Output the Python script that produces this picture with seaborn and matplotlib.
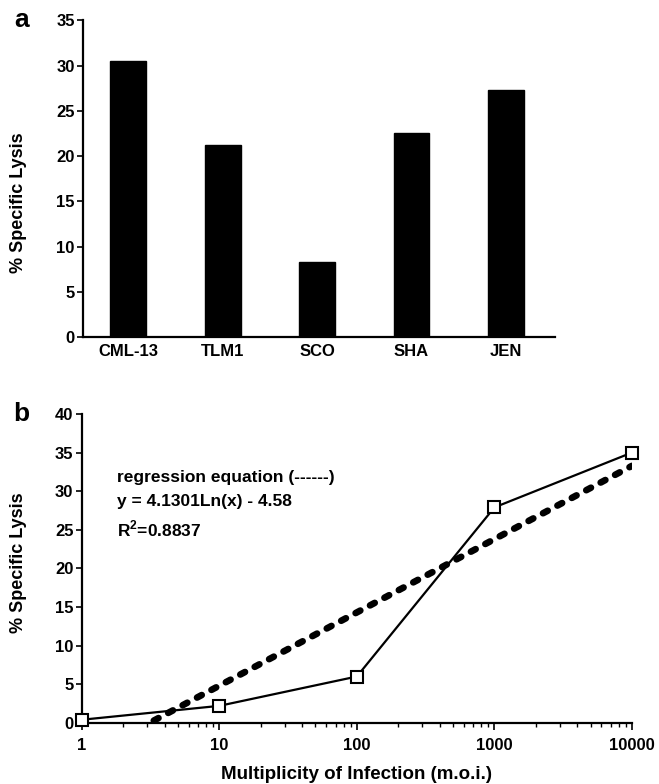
import numpy as np
import pandas as pd
import seaborn as sns
import matplotlib.pyplot as plt
from matplotlib.ticker import LogLocator, FixedLocator, NullFormatter

# panel a: lysis by target cell line
cell_lines = ["CML-13", "TLM1", "SCO", "SHA", "JEN"]
lysis_a = [30.5, 21.2, 8.3, 22.6, 27.3]

# panel b: lysis vs m.o.i.
moi = [1, 10, 100, 1000, 10000]
lysis_b = [0.4, 2.2, 6.0, 27.9, 35.0]

sns.set_style("ticks")
plt.rcParams['font.family'] = ['Liberation Sans', 'DejaVu Sans']
plt.rcParams['font.weight'] = 'bold'
plt.rcParams['mathtext.fontset'] = 'custom'
plt.rcParams['mathtext.rm'] = 'Liberation Sans:bold'
plt.rcParams['mathtext.bf'] = 'Liberation Sans:bold'
for k in ['text.color', 'axes.labelcolor', 'xtick.color', 'ytick.color',
          'axes.edgecolor']:
    plt.rcParams[k] = 'black'

fig = plt.figure(figsize=(6.59, 7.84), dpi=100)
ax1 = fig.add_axes([0.126, 0.570, 0.716, 0.404])
ax2 = fig.add_axes([0.124, 0.078, 0.835, 0.394])

# ---- a
df_a = pd.DataFrame({"cell": cell_lines, "lysis": lysis_a})
sns.barplot(data=df_a, x="cell", y="lysis", color="black", saturation=1,
            width=0.38, edgecolor="black", ax=ax1)
ax1.set_xlim(-0.48, 4.52)
ax1.set_ylim(0, 35)
ax1.set_yticks(range(0, 36, 5))
ax1.set_xlabel("")
ax1.set_ylabel("% Specific Lysis", fontsize=13, fontweight="bold")
ax1.yaxis.set_label_coords(-0.119, 0.426)
ax1.tick_params(axis="x", length=0, pad=5, labelsize=12)
ax1.tick_params(axis="y", length=4, width=1.2, pad=2, labelsize=12)
sns.despine(ax=ax1)
for s in ["left", "bottom"]:
    ax1.spines[s].set_linewidth(1.6)

# ---- b
df_b = pd.DataFrame({"moi": moi, "lysis": lysis_b})
sns.lineplot(data=df_b, x="moi", y="lysis", color="black", linewidth=1.6,
             marker="s", markersize=9, markerfacecolor="white",
             markeredgecolor="black", markeredgewidth=1.5, ax=ax2, zorder=4)
ax2.lines[-1].set_clip_on(False)

# log fit like in the figure
slope, icpt = np.polyfit(np.log(df_b["moi"]), df_b["lysis"], 1)
grid = np.geomspace(1, 10000, 300)
fit = pd.DataFrame({"moi": grid, "lysis": slope * np.log(grid) + icpt})
sns.lineplot(data=fit, x="moi", y="lysis", color="black", linewidth=4.8,
             ax=ax2, zorder=3)
reg = ax2.lines[-1]
reg.set_dashes((0.8, 1.65))
reg.set_dash_capstyle("round")

ax2.set_xscale("log")
ax2.set_xlim(1, 10000)
ax2.set_ylim(0, 40)
ax2.set_yticks(range(0, 41, 5))
ax2.xaxis.set_major_locator(FixedLocator(moi))
ax2.set_xticklabels([str(m) for m in moi])
ax2.xaxis.set_minor_locator(LogLocator(base=10, subs=np.arange(2, 10)))
ax2.xaxis.set_minor_formatter(NullFormatter())
ax2.tick_params(axis="x", which="major", length=5, width=1.2, pad=6, labelsize=12)
ax2.tick_params(axis="x", which="minor", length=3, width=1.0)
ax2.tick_params(axis="y", length=4, width=1.2, pad=2, labelsize=12)
ax2.set_xlabel("Multiplicity of Infection (m.o.i.)", fontsize=13.5,
               fontweight="bold", labelpad=9)
ax2.set_ylabel("% Specific Lysis", fontsize=13, fontweight="bold")
ax2.yaxis.set_label_coords(-0.1, 0.518)
sns.despine(ax=ax2)
for s in ["left", "bottom"]:
    ax2.spines[s].set_linewidth(1.6)

ax2.text(0.065, 0.793, "regression equation (------)", transform=ax2.transAxes,
         fontsize=12.5, fontweight="bold", va="center")
ax2.text(0.065, 0.718, "y = 4.1301Ln(x) - 4.58", transform=ax2.transAxes,
         fontsize=12.5, fontweight="bold", va="center")
ax2.text(0.065, 0.628, "R$^{2}$=0.8837", transform=ax2.transAxes,
         fontsize=12.5, fontweight="bold", va="center")

fig.text(0.022, 1 - 20 / 784, "a", fontsize=19, fontweight="bold", va="center")
fig.text(0.020, 1 - 414 / 784, "b", fontsize=19, fontweight="bold", va="center")

fig.savefig("out.png", dpi=100, facecolor="white")
